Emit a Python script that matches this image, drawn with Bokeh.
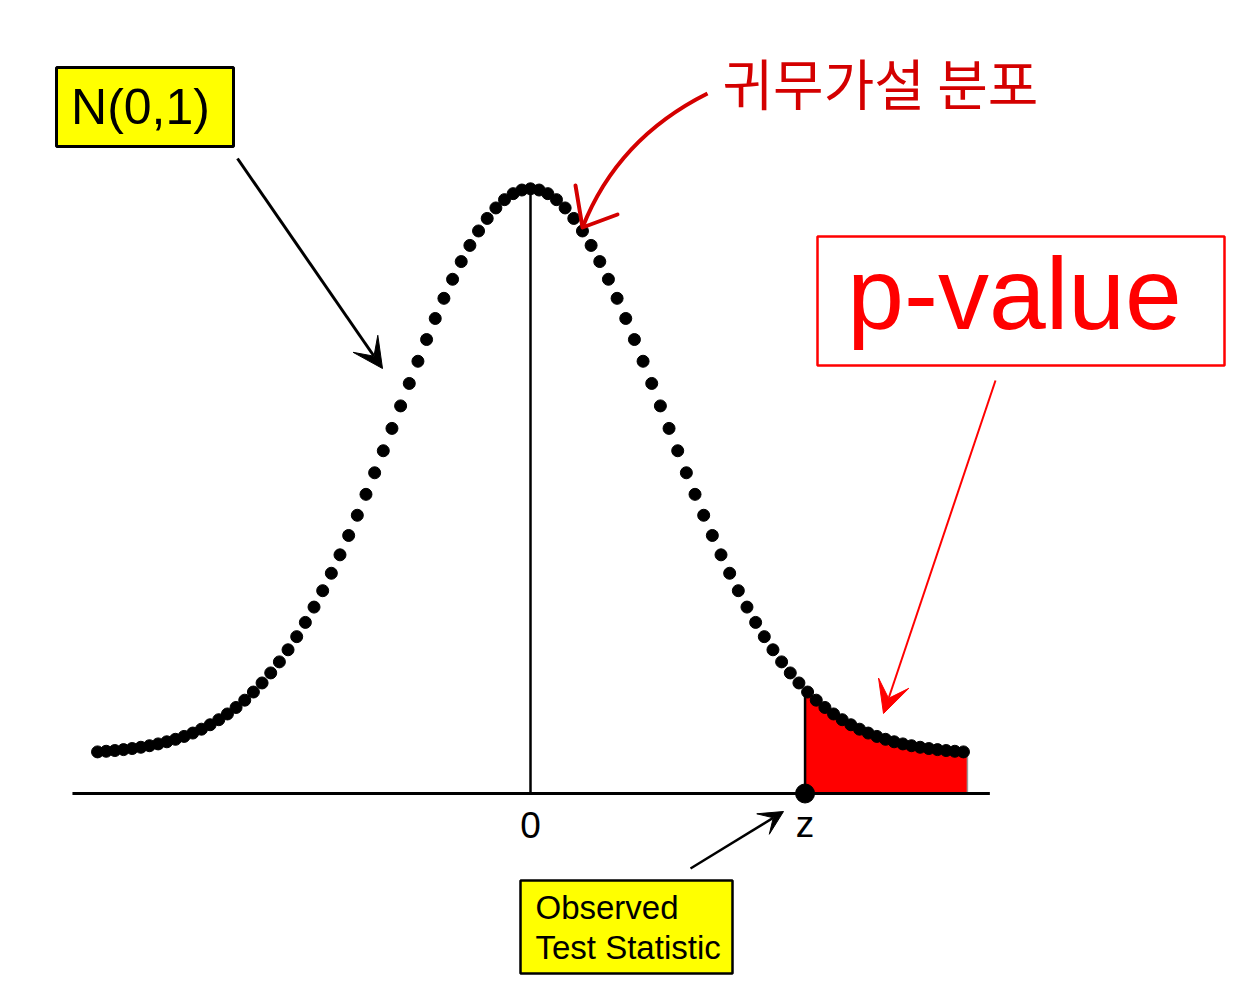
import numpy as np
from bokeh.plotting import figure
from bokeh.models import BoxAnnotation, Label, Arrow, VeeHead, Range1d
from bokeh.core.properties import value
from bokeh.embed import file_html
from bokeh.resources import INLINE

# ---------------- data ----------------
mu = 0.0                      # N(0,1)
sigma = 1.0
z_obs = 2.08                  # observed test statistic
curve_lo, curve_hi = -3.28, 3.28
n_dots = 101
tail_end = 3.31
ground = -0.0275              # level of the horizontal axis line
axis_lo, axis_hi = -3.47, 3.48
tick_pos = [0.0, z_obs]
tick_labels = ["0", "z"]

def pdf(x):
    return np.exp(-0.5 * ((x - mu) / sigma) ** 2) / (sigma * np.sqrt(2 * np.pi))

zs = np.linspace(curve_lo, curve_hi, n_dots)
dens = pdf(zs)
tail_x = np.linspace(z_obs, tail_end, 60)
tail_y = pdf(tail_x)

# ------------- page-pixel helpers for annotations -------------
X0, KX = 530.0, 132.0
Y0, KY = 754.0, 1418.0
def sx(px): return (px - X0) / KX
def sy(py): return (Y0 - py) / KY
def base(py, size): return sy(py - 0.34 * size)   # baseline correction

W, H = 1231, 983
p = figure(width=W, height=H, output_backend="svg", toolbar_location=None,
           x_range=Range1d(sx(0), sx(W)), y_range=Range1d(sy(H), sy(0)),
           min_border=0, outline_line_color=None)
p.axis.visible = False
p.grid.visible = False
p.background_fill_color = "white"

# shaded p-value tail
p.varea(x=tail_x, y1=ground, y2=tail_y, fill_color="#ff0000")
p.segment(x0=[tail_end], y0=[ground], x1=[tail_end], y1=[pdf(tail_end)],
          line_color="#999999", line_width=1.5)

# axis line
p.segment(x0=[axis_lo], y0=[ground], x1=[axis_hi], y1=[ground],
          line_color="black", line_width=3)
# vertical lines at mean and at z
p.segment(x0=[mu, z_obs], y0=[ground, ground], x1=[mu, z_obs], y1=[pdf(mu), pdf(z_obs)],
          line_color="black", line_width=2.5)

# dotted density curve
p.scatter(zs, dens, size=12, color="black")

# observed point on axis
p.scatter([z_obs], [ground], size=19, color="black")

# tick labels
p.text(x=tick_pos, y=[base(837, 37)] * len(tick_pos), text=tick_labels,
       text_font=value("Liberation Sans"), text_font_size="37px",
       text_align="center", text_baseline="alphabetic", text_color="black")

# ---------------- annotations ----------------
# N(0,1) box
p.add_layout(BoxAnnotation(left=sx(56), right=sx(233), top=sy(67), bottom=sy(146),
                           fill_color="#ffff00", fill_alpha=1.0,
                           line_color="black", line_alpha=1.0, line_width=3))
p.add_layout(Label(x=sx(140), y=base(123, 50), text="N(0,1)", text_font="Liberation Sans",
                   text_font_size="50px", text_align="center", text_baseline="alphabetic",
                   text_color="black"))
p.add_layout(Arrow(x_start=sx(237), y_start=sy(158), x_end=sx(382), y_end=sy(368),
                   line_color="black", line_width=3,
                   end=VeeHead(size=30, fill_color="black", line_color="black")))

# p-value box
p.add_layout(BoxAnnotation(left=sx(817), right=sx(1224), top=sy(236), bottom=sy(365),
                           fill_color="white", fill_alpha=1.0,
                           line_color="#ff0000", line_alpha=1.0, line_width=2.5))
p.add_layout(Label(x=sx(1014), y=base(328, 102), text="p-value", text_font="Liberation Sans",
                   text_font_size="102px", text_align="center", text_baseline="alphabetic",
                   text_color="#ff0000"))
p.add_layout(Arrow(x_start=sx(995), y_start=sy(380), x_end=sx(883), y_end=sy(713),
                   line_color="#ff0000", line_width=2,
                   end=VeeHead(size=32, fill_color="#ff0000", line_color="#ff0000")))

# observed test statistic box
p.add_layout(BoxAnnotation(left=sx(520), right=sx(732), top=sy(880), bottom=sy(973),
                           fill_color="#ffff00", fill_alpha=1.0,
                           line_color="black", line_alpha=1.0, line_width=2.5))
for txt, bpy in [("Observed", 918), ("Test Statistic", 958)]:
    p.add_layout(Label(x=sx(535), y=base(bpy, 33), text=txt, text_font="Liberation Sans",
                       text_font_size="33px", text_align="left", text_baseline="alphabetic",
                       text_color="black"))
p.add_layout(Arrow(x_start=sx(690), y_start=sy(868), x_end=sx(783), y_end=sy(811),
                   line_color="black", line_width=2.5,
                   end=VeeHead(size=24, fill_color="black", line_color="black")))

# handwritten Korean note with curved arrow
hand_red = "#d40000"
p.add_layout(Label(x=sx(722), y=sy(80), text="귀무가설 분포", text_font="Noto Sans CJK KR",
                   text_font_size="55px", text_align="left", text_baseline="middle",
                   text_color=hand_red))
p.quadratic(x0=[sx(707)], y0=[sy(93)], x1=[sx(582)], y1=[sy(227)],
            cx=[sx(617)], cy=[sy(138)], line_color=hand_red, line_width=4)
p.multi_line(xs=[[sx(575), sx(582), sx(617)]], ys=[[sy(185), sy(227), sy(214)]],
             line_color=hand_red, line_width=4, line_cap="round", line_join="round")

open("out.html", "w").write(file_html(p, INLINE))
